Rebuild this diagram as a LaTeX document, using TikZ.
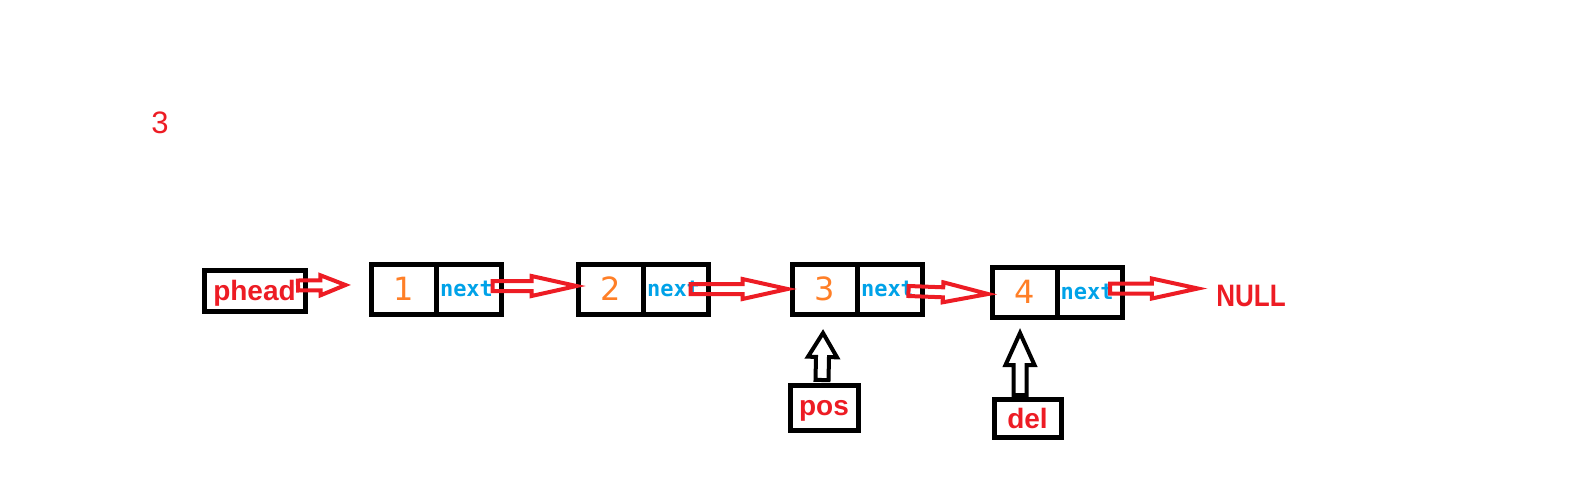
\documentclass[tikz,border=0pt]{standalone}
\usepackage{fontspec}
\usepackage{graphicx}
\setmainfont{Liberation Sans}
\newfontfamily\numfont{DejaVu Sans}
\newfontfamily\nxtfont{DejaVu Sans Mono}
\usetikzlibrary{positioning,calc}
\definecolor{pred}{HTML}{ED1C24}
\definecolor{porange}{HTML}{FF7F27}
\definecolor{pblue}{HTML}{00A2E8}
\tikzset{
  cell/.style={draw, line width=2.5pt, minimum width=32.5pt, minimum height=25pt, inner sep=0pt, outer sep=0pt},
  val/.style={cell, text=porange, font=\numfont\fontsize{16}{16}\selectfont},
  nxt/.style={cell, text=pblue, text width=29pt, align=left, font=\nxtfont\bfseries\fontsize{11}{11}\selectfont},
  tag/.style={draw, line width=2.5pt, inner sep=0pt, outer sep=0pt, text depth=0pt, text=pred, font=\bfseries\fontsize{14}{14}\selectfont},
  fat/.style n args={3}{line width=2pt, line join=miter, to path={
    ($(\tikztotarget)!#3!(\tikztostart)$) coordinate (fb)
    ($(\tikztostart)!#1!90:(\tikztotarget)$)
    -- ($(fb)!#1!-90:(\tikztostart)$)
    -- ($(fb)!#2!-90:(\tikztostart)$)
    -- (\tikztotarget)
    -- ($(fb)!#2!90:(\tikztostart)$)
    -- ($(fb)!#1!90:(\tikztostart)$)
    -- ($(\tikztostart)!#1!-90:(\tikztotarget)$)
    -- cycle}}
}
\begin{document}
\begin{tikzpicture}[x=0.5pt, y=-0.5pt]
  \useasboundingbox (0,0) rectangle (1588,499);
  \node[text=pred, font=\fontsize{15.5}{15.5}\selectfont] (cnt) at (160,123) {3};
  \node[tag, minimum width=50.5pt, minimum height=20.5pt] (phead) at (254.5,290.5) {phead};
  \foreach \i/\x/\y in {1/404/289, 2/611/289, 3/825/289, 4/1024.5/292} {
    \node[val] (v\i) at (\x,\y) {\i};
    \node[nxt, right=0pt of v\i] (n\i) {next};
  }
  \node[text=pred, inner sep=0pt, font=\bfseries\fontsize{15.5}{15.5}\selectfont] (null) at (1251,296) {\scalebox{0.84}[1]{NULL}};
  \node[tag, minimum width=34pt, minimum height=22.5pt] (pos) at (824,407.5) {pos};
  \node[tag, minimum width=33.5pt, minimum height=19pt] (del) at (1027.5,418) {del};

  \draw[fat={2.5pt}{5pt}{12.5pt}, pred] ([xshift=-3.5pt,yshift=2.5pt]phead.east) to ([xshift=-13pt,yshift=2pt]v1.west);
  \foreach \i/\j/\a/\b/\dy in {1/2/-4.5pt/-1pt/1.5pt, 2/3/-9pt/-2.5pt/0pt, 3/4/-7pt/-2pt/-1pt}
    \draw[fat={2.5pt}{5pt}{22.5pt}, pred] ([xshift=\a,yshift=\dy]n\i.east) to ([xshift=\b,yshift=\dy]v\j.west);
  \draw[fat={2.5pt}{5pt}{23pt}, pred] ([xshift=-6pt,yshift=1.75pt]n4.east) to ([xshift=-9pt,yshift=3.75pt]null.west);
  \draw[fat={3.25pt}{7.25pt}{12pt}] ([xshift=-1pt,yshift=2.5pt]pos.north) to ([xshift=-1pt,yshift=-9.5pt]v3.south);
  \draw[fat={3.25pt}{7.25pt}{16pt}] ([xshift=-3.75pt,yshift=2pt]del.north) to ([xshift=-2.25pt,yshift=-8pt]v4.south);
\end{tikzpicture}
\end{document}
